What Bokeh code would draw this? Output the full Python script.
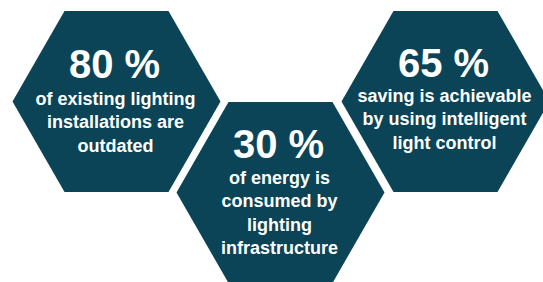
import numpy as np
from bokeh.plotting import figure
from bokeh.models import Range1d, ColumnDataSource
from bokeh.core.properties import value
from bokeh.embed import file_html
from bokeh.resources import INLINE

# data
percent_values = [80, 30, 65]
headline_labels = ["80 %", "30 %", "65 %"]
description_lines = [
    ["of existing lighting", "installations are", "outdated"],
    ["of energy is", "consumed by", "lighting", "infrastructure"],
    ["saving is achievable", "by using intelligent", "light control"],
]

# layout (screen-pixel coordinate system)
centers_x = [116, 280, 445]
centers_y = [101, 192, 101]
R = 104            # half width (pointy left/right)
H = 90.5           # half height
title_offset = [-38, -49, -39]
line_start = [-3, -15, -6]
line_gap = 23.6
fill = "#0b4457"

p = figure(width=543, height=282, output_backend="svg", toolbar_location=None,
           x_range=Range1d(0, 543), y_range=Range1d(282, 0),
           min_border=0)
p.axis.visible = False
p.grid.visible = False
p.outline_line_color = None
p.background_fill_color = "white"
p.border_fill_color = "white"

xs, ys = [], []
for cx, cy in zip(centers_x, centers_y):
    xs.append([cx - R, cx - R / 2, cx + R / 2, cx + R, cx + R / 2, cx - R / 2])
    ys.append([cy, cy - H, cy - H, cy, cy + H, cy + H])
p.patches(xs, ys, fill_color=fill, line_color=None)

tx, ty, tt = [], [], []
for i in range(3):
    tx.append(centers_x[i] - 2)
    ty.append(centers_y[i] + title_offset[i])
    tt.append(headline_labels[i])
p.text(x=tx, y=ty, text=tt, text_font=value("Liberation Sans"), text_font_style="bold",
       text_font_size="40px", text_color="white", text_align="center", text_baseline="middle")

lx, ly, lt = [], [], []
for i, lines in enumerate(description_lines):
    for j, line in enumerate(lines):
        lx.append(centers_x[i] - 1)
        ly.append(centers_y[i] + line_start[i] + j * line_gap)
        lt.append(line)
p.text(x=lx, y=ly, text=lt, text_font=value("Liberation Sans"), text_font_style="bold",
       text_font_size="18px", text_color="white", text_align="center", text_baseline="middle")

open("out.html", "w").write(file_html(p, INLINE))
